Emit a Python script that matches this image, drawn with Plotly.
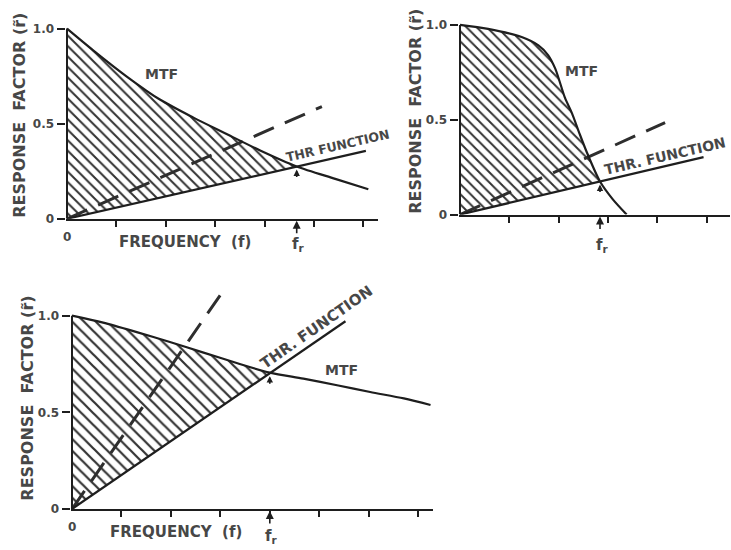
import numpy as np
import plotly.graph_objects as go

# ---------------- data (x in tick units) ----------------
# Panel 1 (top left)
mtf1_x = [0, 0.53, 1.21, 1.88, 2.56, 3.23, 3.91, 4.65, 5.43, 6.10]
mtf1_y = [1.0, 0.886, 0.748, 0.627, 0.532, 0.446, 0.359, 0.275, 0.210, 0.155]
thr1_x = [0, 6.05]
thr1_y = [0, 0.357]
dash1_x = [0, 5.16]
dash1_y = [0, 0.59]
fr1 = 4.65

# Panel 2 (top right)
mtf2_x = [0, 0.57, 1.25, 1.59, 1.79, 1.93, 2.00, 2.13, 2.27, 2.42, 2.57, 2.84, 3.10, 3.38]
mtf2_y = [1.0, 0.979, 0.936, 0.892, 0.840, 0.771, 0.719, 0.615, 0.535, 0.430, 0.330, 0.174, 0.080, 0.0]
thr2_x = [0, 4.94]
thr2_y = [0, 0.303]
dash2_x = [0, 4.16]
dash2_y = [0, 0.485]
fr2 = 2.84

# Panel 3 (bottom)
mtf3_x = [0, 0.63, 1.31, 1.98, 2.66, 3.33, 4.00, 4.68, 5.36, 6.03, 6.71, 7.25]
mtf3_y = [1.0, 0.964, 0.915, 0.864, 0.809, 0.755, 0.705, 0.674, 0.640, 0.605, 0.572, 0.538]
thr3_x = [0, 5.53]
thr3_y = [0, 0.971]
dash3_x = [0, 3.06]
dash3_y = [0, 1.129]
fr3 = 4.0

y_tickvals = [0, 0.5, 1.0]
y_ticktext = ["0", "0.5", "1.0"]
x_ticks1 = [1, 2, 3, 4, 5, 6]
x_ticks2 = [1, 2, 3, 4, 5]
x_ticks3 = [1, 2, 3, 4, 5, 6, 7]

Y_TITLE = "RESPONSE  FACTOR (r\u0303)"
X_TITLE = "FREQUENCY  (f)"

# ---------------- styling ----------------
W, H = 731, 550
INK = "#1e1e1e"
TXT = "#474747"
FONT = "DejaVu Sans"
BOLD = dict(family=FONT, color=TXT, weight="bold")

fig = go.Figure()


def add_panel(k, mtf_x, mtf_y, thr_x, thr_y, dash_x, dash_y, fr, hatch):
    xa = "x" if k == 1 else f"x{k}"
    ya = "y" if k == 1 else f"y{k}"
    mx = np.array(mtf_x, float)
    my = np.array(mtf_y, float)
    keep = mx <= fr + 1e-9
    thr_fr = float(np.interp(fr, thr_x, thr_y))
    # lower edge of the hatched region: threshold function from 0 to f_r
    fig.add_trace(go.Scatter(x=[0, fr], y=[0, thr_fr], xaxis=xa, yaxis=ya, mode="lines",
                             line=dict(width=0, color="rgba(0,0,0,0)"), hoverinfo="skip"))
    # upper edge: MTF from 0 to f_r, hatched down to the threshold function
    fig.add_trace(go.Scatter(
        x=list(mx[keep]), y=list(my[keep]), xaxis=xa, yaxis=ya, mode="lines",
        line=dict(width=0, color="rgba(0,0,0,0)", shape="spline", smoothing=0.8),
        fill="tonexty", fillcolor="rgba(0,0,0,0)",
        fillpattern=dict(shape="\\", size=hatch, solidity=0.27,
                         fgcolor="#333333", bgcolor="rgba(0,0,0,0)", fillmode="replace"),
        hoverinfo="skip"))
    fig.add_trace(go.Scatter(x=dash_x, y=dash_y, xaxis=xa, yaxis=ya, mode="lines",
                             line=dict(color="#2e2e2e", width=3, dash="22px,12px")))
    fig.add_trace(go.Scatter(x=mtf_x, y=mtf_y, xaxis=xa, yaxis=ya, mode="lines",
                             line=dict(color=INK, width=2.2, shape="spline", smoothing=0.8)))
    fig.add_trace(go.Scatter(x=thr_x, y=thr_y, xaxis=xa, yaxis=ya, mode="lines",
                             line=dict(color=INK, width=2.2)))
    # y-axis line from 0 to 1.0
    fig.add_shape(type="line", xref=xa, yref=ya, x0=0, x1=0, y0=0, y1=1.0,
                  line=dict(color=INK, width=2))
    return thr_fr


# panel geometry in pixels: origin, pixels per x unit / y unit, right end, top value
panels = {
    1: dict(ox=67, oy=221, xu=49.4, yu=193.0, xr=378, ytop=1.03),
    2: dict(ox=460, oy=216.7, xu=49.3, yu=192.4, xr=730, ytop=1.03),
    3: dict(ox=72, oy=515.5, xu=49.45, yu=196.2, xr=433, ytop=1.16),
}
ticks = {1: x_ticks1, 2: x_ticks2, 3: x_ticks3}
PAD = 0.03

layout_axes = {}
for k, g in panels.items():
    xl = g["ox"] - PAD * g["xu"]
    xmax = (g["xr"] - g["ox"]) / g["xu"]
    ytop_px = g["oy"] - g["yu"] * g["ytop"]
    xname = "xaxis" if k == 1 else f"xaxis{k}"
    yname = "yaxis" if k == 1 else f"yaxis{k}"
    layout_axes[xname] = dict(
        domain=[xl / W, g["xr"] / W], range=[-PAD, xmax],
        anchor="y" if k == 1 else f"y{k}",
        showline=True, linecolor=INK, linewidth=2,
        ticks="outside", ticklen=6, tickwidth=2, tickcolor=INK,
        tickvals=ticks[k], showticklabels=False,
        showgrid=False, zeroline=False, fixedrange=True)
    layout_axes[yname] = dict(
        domain=[1 - g["oy"] / H, 1 - ytop_px / H], range=[0, g["ytop"]],
        anchor="x" if k == 1 else f"x{k}",
        showline=False, ticks="outside", ticklen=8, tickwidth=2, tickcolor=INK,
        tickvals=y_tickvals, ticktext=y_ticktext,
        tickfont=dict(family=FONT, size=12, color=TXT, weight="bold"),
        showgrid=False, zeroline=False, fixedrange=True)

t1 = add_panel(1, mtf1_x, mtf1_y, thr1_x, thr1_y, dash1_x, dash1_y, fr1, 7.4)
t2 = add_panel(2, mtf2_x, mtf2_y, thr2_x, thr2_y, dash2_x, dash2_y, fr2, 7.2)
t3 = add_panel(3, mtf3_x, mtf3_y, thr3_x, thr3_y, dash3_x, dash3_y, fr3, 8.3)

ann = []


def txt(xref, yref, x, y, text, size, angle=0, xshift=0, yshift=0):
    ann.append(dict(xref=xref, yref=yref, x=x, y=y, text=text, showarrow=False,
                    textangle=angle, xshift=xshift, yshift=yshift,
                    xanchor="center", yanchor="middle",
                    font=dict(size=size, **BOLD)))


def arrow(xref, yref, x, y, ay, size, standoff):
    ann.append(dict(xref=xref, yref=yref, x=x, y=y, ax=0, ay=ay, text="",
                    showarrow=True, arrowhead=2, arrowsize=size, arrowwidth=1.6,
                    arrowcolor=INK, standoff=standoff))


# y titles (paper coordinates)
txt("paper", "paper", 20 / W, 1 - 116.5 / H, Y_TITLE, 16, angle=-90)
txt("paper", "paper", 416 / W, 1 - 112.5 / H, Y_TITLE, 16, angle=-90)
txt("paper", "paper", 27.5 / W, 1 - 403 / H, Y_TITLE, 16, angle=-90)

# panel 1 labels
txt("x", "y", 0, 0, "0", 12, yshift=-18)
txt("x", "y", 2.38, 0, X_TITLE, 15, yshift=-23)
txt("x", "y", fr1, 0, "f<sub>r</sub>", 15, xshift=2, yshift=-26)
txt("x", "y", 1.92, 0.761, "MTF", 14)
txt("x", "y", 5.49, 0.383, "THR FUNCTION", 12.5, angle=-13)
arrow("x", "y", fr1, 0, 16, 1.0, 2)
arrow("x", "y", fr1, t1, 12, 0.8, 3)

# panel 2 labels
txt("x2", "y2", fr2, 0, "f<sub>r</sub>", 15, xshift=2, yshift=-31)
txt("x2", "y2", 2.47, 0.758, "MTF", 14)
txt("x2", "y2", 4.16, 0.31, "THR. FUNCTION", 14, angle=-13)
arrow("x2", "y2", fr2, 0, 16, 1.0, 2)
arrow("x2", "y2", fr2, t2, 12, 0.8, 3)

# panel 3 labels
txt("x3", "y3", 0, 0, "0", 12, yshift=-18)
txt("x3", "y3", 2.1, 0, X_TITLE, 15, yshift=-23)
txt("x3", "y3", fr3, 0, "f<sub>r</sub>", 15, xshift=2, yshift=-27)
txt("x3", "y3", 5.46, 0.72, "MTF", 14)
txt("x3", "y3", 4.95, 0.942, "THR. FUNCTION", 15, angle=-35)
arrow("x3", "y3", fr3, 0, 16, 1.0, 2)
arrow("x3", "y3", fr3, t3, 12, 0.8, 3)

fig.update_layout(
    width=W, height=H, margin=dict(l=0, r=0, t=0, b=0),
    paper_bgcolor="white", plot_bgcolor="white", showlegend=False,
    annotations=ann, **layout_axes)

fig.write_html("out.html")
